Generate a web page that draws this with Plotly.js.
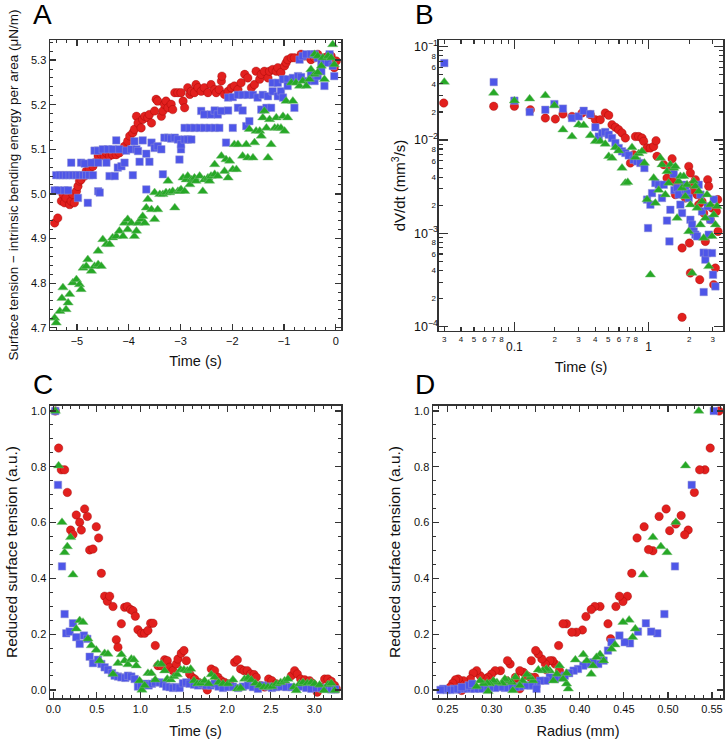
<!DOCTYPE html>
<html><head><meta charset="utf-8">
<script src="https://cdn.plot.ly/plotly-3.0.1.min.js"></script>
<style>html,body{margin:0;padding:0;background:#fff}#chart{width:727px;height:743px}</style>
</head><body><div id="chart"></div>
<script>
// ---------- Panel A: time (s) vs surface tension - bending energy (uN/m) ----------
const aRedT = [-5.43,-5.37,-5.30,-5.27,-5.24,-5.21,-5.14,-5.11,-5.08,-5.05,-5.01,-4.98,-4.95,-4.92,-4.85,-4.82,-4.76,-4.69,-4.66,-4.59,-4.53,-4.47,-4.43,-4.37,-4.31,-4.24,-4.18,-4.11,-4.08,-4.02,-3.98,-3.92,-3.89,-3.85,-3.82,-3.76,-3.73,-3.69,-3.63,-3.60,-3.56,-3.50,-3.47,-3.44,-3.37,-3.34,-3.31,-3.28,-3.24,-3.18,-3.15,-3.11,-3.05,-2.99,-2.95,-2.92,-2.86,-2.82,-2.79,-2.73,-2.70,-2.66,-2.60,-2.54,-2.47,-2.41,-2.34,-2.31,-2.25,-2.21,-2.20,-2.15,-2.08,-2.02,-1.96,-1.89,-1.83,-1.76,-1.70,-1.63,-1.57,-1.54,-1.47,-1.44,-1.38,-1.31,-1.28,-1.22,-1.15,-1.12,-1.06,-0.99,-0.96,-0.93,-0.86,-0.80,-0.67,-0.60,-0.54,-0.48,-0.41,-0.35,-0.22,-0.15,-0.09,-0.03,0.01];
const aRedV = [4.935,4.946,4.984,4.999,4.980,4.991,4.976,4.984,4.999,4.980,5.006,5.017,5.029,5.032,5.040,5.051,5.055,5.062,5.070,5.085,5.088,5.085,5.092,5.085,5.088,5.088,5.092,5.100,5.107,5.118,5.130,5.137,5.145,5.174,5.159,5.148,5.167,5.174,5.171,5.178,5.159,5.186,5.212,5.208,5.174,5.186,5.201,5.208,5.193,5.201,5.189,5.227,5.227,5.227,5.208,5.193,5.238,5.223,5.230,5.227,5.245,5.238,5.230,5.238,5.227,5.245,5.234,5.227,5.234,5.253,5.264,5.223,5.230,5.238,5.242,5.234,5.249,5.268,5.260,5.238,5.245,5.275,5.257,5.268,5.275,5.260,5.275,5.279,5.275,5.283,5.272,5.287,5.294,5.301,5.305,5.305,5.313,5.309,5.309,5.301,5.305,5.313,5.305,5.309,5.309,5.283,5.298];
const aBlueT = [-5.40,-5.33,-5.27,-5.21,-5.14,-5.08,-5.01,-4.95,-4.88,-4.82,-4.76,-4.69,-5.43,-5.37,-5.24,-5.17,-5.11,-4.92,-4.85,-4.72,-4.59,-4.98,-4.79,-4.59,-4.56,-4.66,-4.59,-4.50,-4.40,-4.31,-4.18,-4.05,-3.95,-3.85,-4.43,-4.37,-4.27,-4.21,-4.14,-4.08,-3.92,-3.79,-3.66,-3.60,-3.34,-3.02,-2.99,-4.24,-3.89,-3.73,-3.82,-3.66,-3.56,-3.50,-3.44,-3.37,-3.31,-3.24,-3.18,-3.11,-3.05,-2.99,-2.92,-2.86,-2.79,-2.92,-2.82,-2.73,-2.63,-2.54,-2.44,-2.34,-2.25,-2.60,-2.54,-2.41,-2.34,-2.28,-2.21,-2.08,-2.12,-1.99,-1.89,-1.80,-1.73,-1.67,-1.44,-1.34,-1.25,-0.80,-2.08,-1.99,-1.89,-1.80,-1.70,-1.60,-1.51,-1.41,-1.31,-1.22,-1.12,-1.06,-1.22,-1.12,-1.02,-0.93,-0.83,-0.73,-0.67,-0.54,-0.48,-0.41,-0.35,-0.28,-1.02,-0.93,-0.70,-0.64,-0.57,-0.48,-0.41,-0.35,-0.28,-0.22,-0.15,-0.12,-0.06,-0.03,-0.22];
const aBlueV = [5.042,5.042,5.042,5.042,5.042,5.042,5.042,5.042,5.042,5.042,5.042,5.042,5.008,5.008,5.008,5.008,5.070,5.070,5.068,5.070,5.070,4.991,4.980,5.006,5.003,5.097,5.097,5.100,5.100,5.100,5.100,5.097,5.100,5.100,5.070,5.040,5.040,5.059,5.062,5.070,5.042,5.072,5.010,5.072,5.044,5.077,5.100,5.120,5.118,5.120,5.096,5.090,5.115,5.103,5.107,5.100,5.126,5.126,5.124,5.126,5.122,5.111,5.122,5.122,5.122,5.148,5.148,5.148,5.148,5.148,5.148,5.148,5.148,5.186,5.178,5.178,5.187,5.178,5.186,5.187,5.115,5.148,5.193,5.187,5.152,5.163,5.189,5.193,5.193,5.193,5.216,5.217,5.222,5.222,5.222,5.222,5.216,5.222,5.219,5.230,5.219,5.230,5.249,5.249,5.257,5.257,5.260,5.264,5.262,5.253,5.268,5.253,5.264,5.275,5.216,5.242,5.301,5.309,5.313,5.313,5.313,5.305,5.294,5.298,5.294,5.313,5.287,5.264,5.242];
const aGreenT = [-5.43,-5.40,-5.33,-5.29,-5.27,-5.21,-5.17,-5.14,-5.08,-5.01,-4.95,-4.92,-4.88,-4.82,-4.79,-4.72,-4.66,-4.59,-4.53,-4.59,-4.50,-4.43,-4.37,-4.31,-4.24,-4.18,-4.11,-4.08,-4.02,-4.02,-3.95,-3.89,-3.85,-3.82,-3.76,-3.73,-3.69,-3.66,-3.63,-3.56,-3.50,-3.50,-3.44,-3.40,-3.34,-3.28,-3.24,-3.21,-3.15,-3.11,-3.05,-3.02,-2.99,-2.95,-2.92,-2.89,-2.86,-2.82,-2.79,-2.73,-2.70,-2.63,-2.57,-2.54,-2.47,-2.44,-2.41,-2.34,-2.34,-2.28,-2.21,-2.15,-2.12,-2.05,-2.08,-1.99,-1.92,-1.96,-1.89,-1.80,-1.73,-1.70,-1.67,-1.60,-1.57,-1.54,-1.47,-1.44,-1.41,-1.38,-1.34,-1.31,-1.28,-1.25,-1.18,-1.15,-1.12,-1.06,-1.02,-0.99,-0.96,-0.93,-0.83,-0.86,-0.77,-0.70,-0.64,-0.57,-0.51,-0.48,-0.41,-0.35,-0.41,-0.35,-0.28,-0.25,-0.22,-0.15,-0.09,-0.06,-0.03];
const aGreenV = [4.722,4.711,4.737,4.766,4.790,4.741,4.756,4.775,4.801,4.808,4.797,4.786,4.834,4.838,4.853,4.827,4.838,4.842,4.838,4.872,4.898,4.887,4.887,4.902,4.905,4.917,4.905,4.935,4.920,4.943,4.935,4.905,4.917,4.935,4.943,4.950,4.935,4.969,4.988,4.965,4.943,5.003,4.965,4.999,4.999,5.003,5.029,5.003,5.006,4.969,5.006,5.006,5.010,5.036,5.006,5.032,5.040,5.021,5.032,5.036,5.029,5.040,5.006,5.032,5.036,5.029,5.040,5.044,5.066,5.040,5.085,5.051,5.077,5.074,5.036,5.055,5.055,5.111,5.111,5.085,5.111,5.081,5.145,5.081,5.115,5.141,5.141,5.130,5.171,5.186,5.148,5.081,5.167,5.111,5.148,5.171,5.148,5.148,5.174,5.141,5.208,5.171,5.208,5.249,5.249,5.242,5.253,5.242,5.257,5.279,5.268,5.272,5.313,5.309,5.287,5.305,5.257,5.309,5.305,5.335,5.290];

// ---------- Panel B: time (s) vs dV/dt (mm^3/s), log-log ----------
const bRedT = [0.0298,0.0702,0.100,0.1315,0.170,0.2018,0.230,0.2685,0.319,0.368,0.401,0.436,0.475,0.504,0.533,0.565,0.598,0.633,0.670,0.731,0.773,0.796,0.843,0.892,0.918,0.972,1.029,1.089,1.134,1.153,1.294,1.368,1.449,1.493,1.535,1.580,1.626,1.771,1.822,1.875,1.986,2.009,2.043,2.103,2.043,2.163,2.225,2.290,2.356,2.397,2.494,2.566,2.640,2.748,2.797,2.877,2.960,3.048,3.136,3.190,3.281,3.263,1.771];
const bRedV = [0.0249,0.0230,0.0230,0.0211,0.0172,0.0168,0.0190,0.0179,0.0195,0.0187,0.0165,0.0165,0.0195,0.0184,0.0146,0.0137,0.0129,0.0119,0.0105,0.00567,0.00697,0.0109,0.0109,0.0105,0.00968,0.00821,0.00821,0.00855,0.00984,0.00669,0.00545,0.00392,0.00481,0.00631,0.00361,0.00260,0.00332,0.000697,0.00270,0.00239,0.00522,0.000787,0.00443,0.00332,0.000376,0.00282,0.00376,0.00260,0.00203,0.000319,0.00220,0.00165,0.000820,0.00376,0.00319,0.00140,0.00187,0.000282,0.000425,0.00172,0.00105,0.00230,0.000126];
const bBlueT = [0.0301,0.0702,0.100,0.130,0.170,0.1985,0.230,0.2685,0.301,0.328,0.368,0.401,0.425,0.450,0.475,0.504,0.533,0.565,0.598,0.633,0.670,0.710,0.773,0.819,0.867,0.929,0.972,1.029,0.989,1.059,1.121,1.186,1.256,1.294,1.368,1.426,1.449,1.535,1.553,1.626,1.671,1.721,1.771,1.822,1.875,1.929,1.986,2.043,2.103,2.163,2.225,2.290,2.356,2.426,2.494,2.566,2.640,2.718,2.797,2.877,2.960,3.048,3.136,2.566,3.013,2.748];
const bBlueV = [0.0668,0.0418,0.0264,0.0200,0.0211,0.0243,0.0217,0.0172,0.0179,0.0206,0.0190,0.0137,0.0109,0.0119,0.0122,0.0114,0.0105,0.00929,0.00821,0.00757,0.00726,0.00685,0.00615,0.00591,0.00567,0.00501,0.00230,0.00203,0.00114,0.00270,0.00346,0.00332,0.00239,0.00332,0.00137,0.000820,0.00179,0.00433,0.00291,0.00306,0.00260,0.00203,0.00165,0.00332,0.00291,0.00270,0.00239,0.00140,0.00124,0.00105,0.000968,0.000929,0.00332,0.00260,0.00172,0.000621,0.000523,0.000615,0.000968,0.00140,0.000615,0.00230,0.000270,0.000235,0.000360,0.00195];
const bGreenT = [0.0301,0.0702,0.100,0.130,0.170,0.1985,0.230,0.2685,0.301,0.328,0.368,0.401,0.436,0.475,0.504,0.533,0.565,0.598,0.633,0.670,0.698,0.751,0.796,0.843,0.892,0.929,0.972,1.029,1.089,1.121,1.186,1.222,1.256,1.330,1.368,1.407,1.449,1.535,1.580,1.626,1.671,1.721,1.771,1.822,1.875,1.929,1.986,2.043,2.103,2.163,2.225,2.290,2.356,2.426,2.494,2.566,2.640,2.718,2.797,2.877,2.960,3.048,3.136,3.227];
const bGreenV = [0.0418,0.0319,0.0264,0.0277,0.0301,0.0235,0.0129,0.0109,0.0146,0.0144,0.0112,0.00968,0.00968,0.00906,0.00669,0.00641,0.00834,0.00769,0.00501,0.00346,0.00353,0.00834,0.00652,0.00717,0.00757,0.00567,0.00230,0.000360,0.00392,0.00211,0.00291,0.00641,0.00545,0.00260,0.00461,0.00346,0.00545,0.00501,0.00522,0.00146,0.00361,0.00408,0.00306,0.00408,0.00249,0.00332,0.00105,0.00203,0.000376,0.00361,0.00319,0.00187,0.00282,0.00124,0.00220,0.000891,0.00146,0.00260,0.000443,0.00203,0.000929,0.00158,0.00124,0.00195];

// ---------- Panel C: time (s) vs reduced surface tension ----------
const cRedT = [0.023,0.061,0.092,0.130,0.161,0.199,0.226,0.264,0.303,0.322,0.360,0.391,0.418,0.456,0.494,0.521,0.552,0.590,0.621,0.648,0.686,0.724,0.743,0.782,0.820,0.851,0.889,0.916,0.943,0.973,1.011,1.050,1.088,1.119,1.146,1.172,1.203,1.241,1.280,1.310,1.337,1.375,1.414,1.433,1.471,1.502,1.529,1.567,1.594,1.625,1.670,1.701,1.739,1.770,1.816,1.854,1.893,1.931,1.969,2.027,2.084,2.115,2.153,2.192,2.230,2.268,2.307,2.333,2.383,2.429,2.475,2.513,2.563,2.621,2.678,2.736,2.774,2.805,2.843,2.889,2.946,2.985,3.034,3.080,3.119,3.157,3.195,3.234,3.253];
const cRedV = [1.0,0.867,0.789,0.789,0.708,0.573,0.557,0.627,0.601,0.573,0.649,0.622,0.502,0.505,0.585,0.545,0.418,0.336,0.318,0.336,0.299,0.180,0.153,0.237,0.296,0.299,0.288,0.284,0.264,0.216,0.203,0.203,0.213,0.239,0.239,0.159,0.087,0.087,0.108,0.105,0.081,0.069,0.093,0.111,0.131,0.141,0.105,0.057,0.045,0.039,0.027,0.022,0.016,0.000,0.075,0.069,0.045,0.033,0.027,0.022,0.099,0.108,0.075,0.069,0.069,0.057,0.055,0.045,0.016,0.010,0.039,0.033,0.022,0.016,0.016,0.051,0.069,0.057,0.039,0.036,0.033,0.022,-0.008,0.010,0.039,0.039,0.031,0.016,0.004];
const cBlueT = [0.023,0.054,0.100,0.130,0.149,0.188,0.226,0.264,0.303,0.352,0.391,0.418,0.456,0.513,0.552,0.590,0.628,0.674,0.705,0.743,0.782,0.828,0.858,0.897,0.935,0.973,1.011,1.057,1.096,1.134,1.172,1.222,1.261,1.299,1.337,1.375,1.414,1.452,1.490,1.529,1.567,1.617,1.663,1.709,1.759,1.808,1.854,1.900,1.950,2.008,2.065,2.123,2.180,2.238,2.295,2.352,2.410,2.467,2.513,2.563,2.621,2.678,2.736,2.793,2.851,2.908,2.966,3.023,3.080,3.138,3.195,3.241];
const cBlueV = [1.0,0.735,0.443,0.272,0.203,0.209,0.239,0.189,0.165,0.195,0.183,0.119,0.096,0.108,0.093,0.081,0.072,0.060,0.051,0.048,0.045,0.043,0.051,0.048,0.039,0.012,0.016,0.022,0.016,0.022,0.027,0.027,0.022,0.012,0.010,0.007,0.010,0.007,0.024,0.027,0.022,0.019,0.016,0.022,0.016,0.016,0.022,0.012,0.007,0.010,0.012,0.007,0.012,0.016,0.010,0.004,0.016,0.012,0.007,0.010,0.012,0.010,0.010,0.007,0.012,0.007,0.004,0.007,0.007,0.004,0.002,0.002];
const cGreenT = [0.023,0.061,0.100,0.130,0.161,0.199,0.226,0.264,0.303,0.341,0.398,0.437,0.494,0.533,0.590,0.628,0.686,0.743,0.782,0.820,0.858,0.897,0.927,0.954,0.992,1.019,1.050,1.088,1.126,1.172,1.203,1.241,1.280,1.310,1.349,1.387,1.425,1.464,1.502,1.540,1.579,1.617,1.655,1.693,1.739,1.785,1.816,1.854,1.900,1.950,2.008,2.065,2.115,2.153,2.199,2.238,2.276,2.322,2.372,2.421,2.467,2.513,2.563,2.613,2.659,2.697,2.766,2.793,2.831,2.870,2.920,2.966,3.004,3.061,3.111,3.157,3.195,3.234];
const cGreenV = [1.0,0.804,0.601,0.493,0.514,0.547,0.413,0.219,0.249,0.243,0.183,0.159,0.143,0.105,0.131,0.129,0.057,0.096,0.127,0.105,0.091,0.111,0.108,0.087,0.033,0.000,0.016,0.060,0.060,0.036,0.093,0.093,0.069,0.039,0.036,0.048,0.055,0.072,0.072,0.069,0.075,0.033,0.022,0.024,0.033,0.022,0.055,0.045,0.027,0.022,0.022,0.036,0.004,0.007,0.039,0.043,0.036,0.024,0.016,0.010,0.010,0.012,0.022,0.027,0.033,0.039,0.010,-0.002,0.022,0.027,0.024,0.027,0.022,0.018,-0.002,0.019,0.024,-0.002];

// ---------- Panel D: radius (mm) vs reduced surface tension ----------
const dRedR = [0.558,0.548,0.542,0.536,0.530,0.523,0.519,0.515,0.509,0.502,0.498,0.490,0.483,0.478,0.473,0.465,0.459,0.454,0.449,0.445,0.441,0.435,0.432,0.423,0.417,0.413,0.407,0.403,0.396,0.391,0.385,0.381,0.376,0.372,0.369,0.366,0.362,0.361,0.357,0.353,0.350,0.345,0.344,0.340,0.336,0.332,0.328,0.327,0.321,0.318,0.317,0.310,0.304,0.300,0.296,0.293,0.287,0.283,0.279,0.276,0.268,0.264,0.262,0.259,0.256,0.253,0.291,0.266,0.332,0.349,0.377];
const dRedV = [1.000,0.867,0.789,0.789,0.708,0.573,0.556,0.625,0.595,0.571,0.649,0.622,0.499,0.503,0.585,0.545,0.418,0.336,0.317,0.336,0.299,0.183,0.237,0.299,0.299,0.288,0.263,0.215,0.207,0.207,0.237,0.237,0.159,0.093,0.105,0.105,0.072,0.093,0.111,0.129,0.141,0.105,0.045,0.051,0.063,0.069,0.027,0.045,0.093,0.105,0.033,0.069,0.069,0.057,0.045,0.039,0.051,0.069,0.060,0.039,0.033,0.022,0.039,0.036,0.024,0.010,0.016,-0.002,0.004,0.045,0.069];
const dBlueR = [0.552,0.527,0.508,0.496,0.488,0.481,0.475,0.466,0.457,0.451,0.445,0.436,0.432,0.427,0.421,0.415,0.408,0.404,0.398,0.393,0.388,0.383,0.378,0.372,0.366,0.361,0.355,0.351,0.347,0.344,0.338,0.332,0.327,0.321,0.315,0.310,0.304,0.298,0.293,0.287,0.281,0.276,0.272,0.268,0.264,0.261,0.257,0.253,0.249,0.245,0.242,0.274,0.278,0.266,0.351];
const dBlueV = [1.000,0.735,0.443,0.272,0.203,0.209,0.239,0.209,0.167,0.171,0.195,0.171,0.141,0.105,0.093,0.099,0.093,0.087,0.075,0.069,0.060,0.051,0.045,0.039,0.045,0.033,0.033,0.022,0.016,0.016,0.016,0.012,0.010,0.010,0.007,0.010,0.007,0.010,0.007,0.004,0.004,0.004,0.006,0.004,0.004,0.001,0.004,0.000,0.000,0.004,0.000,0.016,0.022,0.010,0.004];
const dGreenR = [0.535,0.520,0.509,0.499,0.492,0.483,0.472,0.463,0.456,0.449,0.460,0.440,0.436,0.427,0.423,0.419,0.413,0.415,0.408,0.404,0.395,0.385,0.387,0.385,0.381,0.377,0.374,0.370,0.366,0.362,0.358,0.353,0.347,0.344,0.340,0.335,0.332,0.327,0.323,0.319,0.315,0.312,0.306,0.302,0.298,0.295,0.291,0.287,0.283,0.324,0.296];
const dGreenV = [1.0,0.804,0.601,0.493,0.514,0.547,0.413,0.219,0.251,0.243,0.189,0.162,0.147,0.105,0.127,0.117,0.057,0.087,0.105,0.127,0.108,0.060,0.004,0.022,0.039,0.087,0.057,0.033,0.069,0.075,0.069,0.072,0.033,0.045,0.055,0.033,0.016,0.045,0.027,0.033,0.039,0.024,0.027,0.033,0.022,0.024,0.022,0.033,0.012,-0.002,-0.005];

// ---------- Tick labels for the log panel ----------
const bXMinorVals = [0.03,0.04,0.05,0.06,0.07,0.08,0.2,0.3,0.4,0.5,0.6,0.7,0.8,2,3];
const bXMinorText = ['3','4','5','6','7','8','2','3','4','5','6','7','8','2','3'];
const bXMajorVals = [0.1,1];
const bXMajorText = ['0.1','1'];
const bXBareVals = [0.09,0.9];
const bYMinorVals = [0.08,0.06,0.04,0.02,0.008,0.006,0.004,0.002,0.0008,0.0006,0.0004,0.0002];
const bYMinorText = ['8','6','4','2','8','6','4','2','8','6','4','2'];
const bYMajorVals = [0.1,0.01,0.001,0.0001];
const bYMajorText = ['10<sup>−1</sup>','10<sup>−2</sup>','10<sup>−3</sup>','10<sup>−4</sup>'];
const bYBareVals = [0.09,0.07,0.05,0.03,0.009,0.007,0.005,0.003,0.0009,0.0007,0.0005,0.0003];

const RED = 'rgb(226,32,30)', BLUE = 'rgb(78,86,232)', GREEN = 'rgb(38,168,38)';
const FONT = 'Liberation Sans, Arial, Helvetica, sans-serif';
const NB = '\u00a0';

function series(x, y, color, symbol, size, xa, ya, name, edge) {
  return {type:'scatter', mode:'markers', x:x, y:y, xaxis:xa, yaxis:ya, name:name,
    showlegend:false, hoverinfo:'x+y',
    marker:{color:color, symbol:symbol, size:size, line:{width:0.6, color:edge}}};
}
const R = (x,y,xa,ya)=>series(x,y,RED,'circle',8.5,xa,ya,'red','rgba(140,0,0,0.55)');
const B = (x,y,xa,ya)=>series(x,y,BLUE,'square',7.5,xa,ya,'blue','rgba(150,150,210,0.8)');
const G = (x,y,xa,ya)=>series(x,y,GREEN,'triangle-up',9,xa,ya,'green','rgba(120,190,120,0.8)');

const traces = [
  R(aRedT,aRedV,'x','y'), B(aBlueT,aBlueV,'x','y'), G(aGreenT,aGreenV,'x','y'),
  R(bRedT,bRedV,'x2','y2'), B(bBlueT,bBlueV,'x2','y2'), G(bGreenT,bGreenV,'x2','y2'),
  R(cRedT,cRedV,'x3','y3'), B(cBlueT,cBlueV,'x3','y3'), G(cGreenT,cGreenV,'x3','y3'),
  R(dRedR,dRedV,'x4','y4'), B(dBlueR,dBlueV,'x4','y4'), G(dGreenR,dGreenV,'x4','y4'),
  {type:'scatter', mode:'markers', x:[], y:[], xaxis:'x5', yaxis:'y5', showlegend:false}
];

function ax(extra) {
  return Object.assign({
    showline:true, linecolor:'#333', linewidth:1.5, mirror:'allticks',
    ticks:'inside', ticklen:6, tickwidth:1.2, tickcolor:'#333',
    showgrid:false, zeroline:false,
    tickfont:{family:FONT, size:11, color:'#111'}
  }, extra);
}
function minor(d) { return {dtick:d, ticks:'inside', ticklen:3, tickwidth:1, tickcolor:'#333', showgrid:false}; }
const titleFont = {family:FONT, size:14.5, color:'#111'};
const yTitleFont = {family:FONT, size:15.5, color:'#111'};

const layout = {
  width:727, height:743,
  margin:{l:50, r:4, t:40, b:45},
  paper_bgcolor:'#fff', plot_bgcolor:'#fff',
  font:{family:FONT, color:'#111'},
  showlegend:false,
  xaxis: ax({domain:[0,0.4324], anchor:'y', range:[-5.52,0.1], dtick:1, tick0:0, minor:minor(0.2),
    title:{text:'Time (s)', font:titleFont, standoff:10}}),
  yaxis: ax({domain:[0.5593,1], anchor:'x', range:[4.695,5.345], dtick:0.1, tick0:0, tickformat:'.1f', minor:minor(0.02),
    title:{text:'Surface tension − intrinsic bending energy per area (μN/m)' + NB.repeat(8), font:{family:FONT, size:13.5, color:'#111'}, standoff:9}}),
  xaxis2: ax({domain:[0.578,1], anchor:'y2', type:'log', range:[-1.561,0.553],
    tickmode:'array', tickvals:bXMinorVals, ticktext:bXMinorText, ticklen:4, tickfont:{family:FONT, size:8, color:'#111'},
    minor:{tickmode:'array', tickvals:bXBareVals, ticks:'inside', ticklen:4, tickwidth:1, tickcolor:'#333', showgrid:false},
    title:{text:'Time (s)', font:titleFont, standoff:19}}),
  xaxis5: ax({overlaying:'x2', anchor:'y2', type:'log', range:[-1.561,0.553], showline:false,
    tickmode:'array', tickvals:bXMajorVals, ticktext:bXMajorText, ticklen:9, ticklabelstandoff:7,
    tickfont:{family:FONT, size:12, color:'#111'}}),
  yaxis2: ax({domain:[0.5578,1], anchor:'x2', type:'log', range:[-4.046,-0.928],
    tickmode:'array', tickvals:bYMinorVals, ticktext:bYMinorText, ticklen:4, tickfont:{family:FONT, size:8, color:'#111'},
    minor:{tickmode:'array', tickvals:bYBareVals, ticks:'inside', ticklen:4, tickwidth:1, tickcolor:'#333', showgrid:false},
    title:{text:NB.repeat(5) + 'dV/dt (mm<sup>3</sup>/s)', font:{family:FONT, size:15, color:'#111'}, standoff:22}}),
  yaxis5: ax({overlaying:'y2', anchor:'x2', type:'log', range:[-4.046,-0.928], showline:false,
    tickmode:'array', tickvals:bYMajorVals, ticktext:bYMajorText, ticklen:9,
    tickfont:{family:FONT, size:12.5, color:'#111'}}),
  xaxis3: ax({domain:[0,0.4324], anchor:'y3', range:[-0.038,3.307], dtick:0.5, tick0:0, tickformat:'.1f', minor:minor(0.1),
    title:{text:'Time (s)', font:titleFont, standoff:12}}),
  yaxis3: ax({domain:[0,0.4438], anchor:'x3', range:[-0.029,1.018], dtick:0.2, tick0:0, tickformat:'.1f', minor:minor(0.05),
    title:{text:'Reduced surface tension (a.u.)' + NB.repeat(3), font:yTitleFont, standoff:9}}),
  xaxis4: ax({domain:[0.5691,1], anchor:'y4', range:[0.2335,0.5625], dtick:0.05, tick0:0, tickformat:'.2f', minor:minor(0.01),
    title:{text:'Radius (mm)', font:titleFont, standoff:12}}),
  yaxis4: ax({domain:[0,0.4438], anchor:'x4', range:[-0.029,1.018], dtick:0.2, tick0:0, tickformat:'.1f', minor:minor(0.05),
    title:{text:'Reduced surface tension (a.u.)' + NB.repeat(3), font:yTitleFont, standoff:9}}),
  annotations: [
    {text:'A', x:-0.0111, y:1.038},
    {text:'B', x:0.5565, y:1.038},
    {text:'C', x:-0.0104, y:0.4772},
    {text:'D', x:0.5565, y:0.4772}
  ].map(a=>Object.assign({xref:'paper', yref:'paper', xanchor:'center', yanchor:'middle', showarrow:false,
    font:{family:FONT, size:28, color:'#000'}}, a))
};

Plotly.newPlot('chart', traces, layout, {displayModeBar:false, staticPlot:true});
</script>
</body></html>
